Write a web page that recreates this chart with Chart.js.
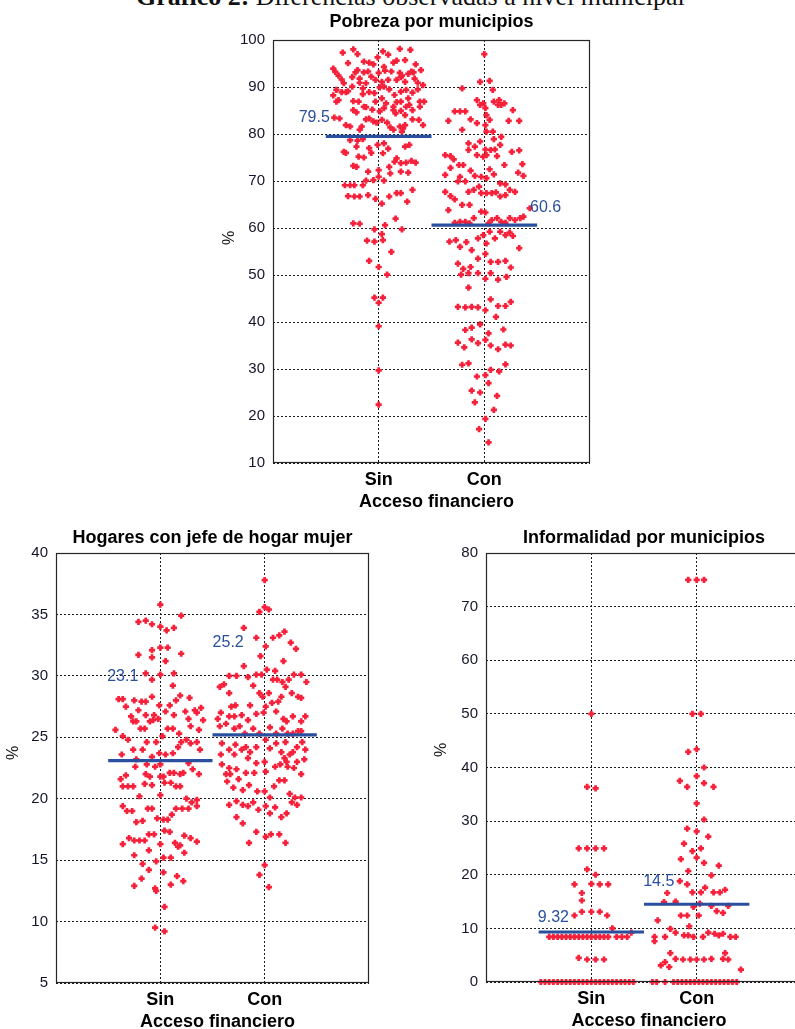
<!DOCTYPE html>
<html><head><meta charset="utf-8">
<script src="https://cdn.jsdelivr.net/npm/chart.js@4.4.1/dist/chart.umd.min.js"></script>
<style>
html,body{margin:0;padding:0;background:#fff;overflow:hidden;width:795px;height:1029px;position:relative}
#cap{position:absolute;left:136px;top:-16.5px;font-family:"Liberation Serif","DejaVu Serif",serif;font-size:26px;line-height:26px;white-space:nowrap;color:#111}
.wrap{position:absolute}
canvas{display:block}
</style></head><body>
<div id="cap"><b>Gráfico 2:</b> Diferencias observadas a nivel municipal</div>
<div class="wrap" style="left:200px;top:0px"><canvas id="c1" width="420" height="510"></canvas></div>
<div class="wrap" style="left:0px;top:515px"><canvas id="c2" width="400" height="514"></canvas></div>
<div class="wrap" style="left:400px;top:515px"><canvas id="c3" width="430" height="514"></canvas></div>
<script>
const categories = ['Sin', 'Con'];
const xAxisTitle = 'Acceso financiero';
const yAxisTitle = '%';

// Pobreza por municipios: [x jitter position, %]
const pobrezaSin = [[0.66,97.3],[0.76,98.0],[0.80,97.0],[1.04,97.6],[1.09,96.9],[1.20,98.1],[1.30,97.9],[0.99,96.3],[0.71,95.1],[0.86,95.4],
[0.91,95.2],[0.95,94.8],[1.14,95.2],[1.25,95.7],[1.35,94.8],[1.17,95.6],[0.57,93.9],[0.59,93.2],[0.62,92.4],[0.80,93.6],
[0.78,93.1],[0.86,93.1],[0.90,93.3],[1.00,93.0],[1.06,93.5],[1.12,93.3],[1.20,93.0],[1.22,92.4],[1.28,92.8],[1.33,93.1],
[1.40,93.6],[1.31,93.3],[1.05,94.3],[0.65,91.6],[0.67,90.8],[0.75,92.1],[0.82,91.8],[0.93,92.2],[0.97,91.5],[1.03,91.1],
[1.09,91.5],[1.17,91.5],[1.21,92.1],[1.25,91.1],[1.34,91.8],[1.37,90.9],[1.42,90.4],[0.88,90.8],[0.82,90.9],[0.57,88.2],
[0.60,89.4],[0.65,88.9],[0.69,88.9],[0.71,89.1],[0.75,90.1],[0.85,89.7],[0.91,88.9],[0.96,88.7],[1.01,89.9],[1.05,90.1],
[1.10,89.5],[1.15,88.3],[1.21,89.0],[1.26,89.4],[1.32,88.8],[1.37,89.5],[0.85,88.5],[0.60,86.9],[0.62,87.2],[0.76,87.0],
[0.81,86.9],[0.86,85.8],[0.97,86.9],[1.03,87.6],[1.07,86.5],[1.14,85.8],[1.17,86.8],[1.21,86.9],[1.28,87.6],[1.29,86.2],
[1.39,86.9],[1.43,86.9],[1.26,85.8],[0.76,85.1],[0.79,84.6],[0.88,85.7],[0.94,85.2],[1.01,84.8],[1.05,85.5],[1.14,85.1],
[1.16,84.4],[1.21,84.9],[1.25,84.0],[1.32,85.1],[1.39,85.8],[0.91,83.3],[0.58,83.5],[0.63,83.3],[0.69,81.9],[0.73,81.6],
[0.84,81.6],[0.88,83.1],[0.95,82.7],[0.98,82.4],[1.03,83.0],[1.08,82.4],[1.11,81.4],[1.20,81.6],[1.23,81.2],[1.38,83.0],
[1.42,81.9],[1.32,83.1],[0.82,80.9],[1.14,80.9],[1.22,80.5],[1.25,81.9],
[0.73,78.7],[0.80,78.6],[0.85,78.9],[0.79,77.3],[0.91,77.0],[0.99,77.7],[1.05,78.0],[1.09,76.9],[1.25,77.3],[1.29,77.7],
[0.67,76.2],[0.69,76.0],[0.81,75.2],[0.86,75.0],[0.93,76.0],[1.04,75.9],[1.15,74.1],[1.17,74.8],[1.21,73.8],[1.26,73.9],
[1.31,74.3],[1.35,73.9],[0.76,73.2],[0.79,73.0],[0.90,72.0],[1.00,72.3],[1.10,73.0],[1.11,71.6],[1.21,72.0],[1.28,71.8],
[1.00,70.9],[0.88,70.1],[0.95,70.2],[1.05,70.1],[0.68,69.1],[0.73,69.1],[0.77,69.1],[0.85,69.1],[0.71,66.8],[0.77,66.7],
[0.82,66.7],[0.90,67.0],[0.97,66.2],[1.03,65.2],[1.10,66.7],[1.17,67.4],[1.21,67.4],[1.32,68.1],[1.27,65.6],[0.76,61.0],
[0.82,60.9],[0.96,59.7],[1.06,60.6],[1.16,62.0],[1.22,59.7],[0.89,57.3],[0.96,57.1],[1.03,58.7],[1.04,57.4],
[0.91,53.0],[1.00,51.7],[1.08,50.1],[1.12,54.9],[0.96,45.2],[1.04,45.2],[1.00,44.1],[1.00,39.1],[1.00,29.7],[1.00,22.4]];

const pobrezaCon = [[2.00,97.0],[1.96,91.1],[2.05,91.3],[2.08,89.4],[1.79,89.7],[1.72,84.8],[1.77,84.8],[1.82,84.8],[1.66,82.8],[1.79,80.9],
[1.87,83.1],[1.93,82.3],[1.96,86.2],[2.01,85.5],[2.02,84.0],[1.93,87.2],[2.05,83.0],[2.09,86.9],[2.13,86.2],[2.16,86.2],
[2.19,86.5],[2.14,87.2],[2.27,85.1],[2.33,82.8],[2.23,82.8],[2.01,81.9],[2.02,80.5],[2.08,80.5],[1.99,86.5],
[1.85,78.0],[1.91,77.3],[1.85,76.6],[1.96,78.4],[2.01,76.7],[2.06,76.6],[2.10,76.7],[2.15,77.7],[2.09,78.9],[2.16,79.4],
[1.93,75.5],[1.99,75.2],[2.02,75.5],[2.12,75.3],[2.19,73.4],[2.26,76.2],[2.33,76.5],[1.63,75.5],[1.68,75.3],[1.71,74.6],
[1.63,71.3],[1.68,72.8],[1.76,73.4],[1.80,73.4],[1.87,72.2],[1.91,71.1],[1.97,70.9],[2.02,70.6],[2.05,72.5],[2.09,71.4],
[2.15,69.5],[2.20,69.3],[2.24,68.1],[2.29,67.7],[2.36,73.6],[2.37,71.1],[2.32,71.8],[1.63,67.7],[1.68,66.8],[1.72,66.1],
[1.75,69.9],[1.77,70.9],[1.82,69.9],[1.85,67.7],[1.90,68.1],[1.95,68.8],[1.97,67.4],[2.02,67.4],[2.07,67.4],[2.11,67.6],
[2.15,66.7],[2.20,67.0],[1.79,64.9],[1.86,64.9],[1.66,63.8],[1.72,61.1],[1.77,61.3],[1.82,61.3],[1.86,61.0],[1.90,62.1],
[1.97,63.5],[2.01,63.3],[2.04,61.0],[2.07,61.7],[2.12,62.1],[2.16,61.3],[2.20,61.1],[2.24,62.1],[2.29,61.7],[2.34,62.1],
[2.37,62.4],[2.43,64.2],[1.73,57.4],[1.67,57.1],[1.77,56.0],[1.83,57.0],[1.88,55.3],[1.94,57.8],[1.99,58.5],[2.02,56.7],
[2.05,59.2],[2.10,57.8],[2.15,59.2],[2.20,58.5],[2.24,59.0],[2.27,58.3],[2.33,55.7],
[1.75,52.4],[1.80,51.3],[1.87,51.7],[1.94,53.5],[1.78,50.1],[1.85,50.4],[1.94,50.4],[2.01,49.2],[2.06,52.8],[2.06,50.4],
[2.13,52.8],[2.13,49.0],[2.20,53.0],[2.21,49.6],[2.25,51.6],[1.85,47.3],[1.75,43.2],[1.82,43.1],[1.88,43.2],[1.94,43.1],
[2.01,42.5],[2.06,44.8],[2.13,43.4],[2.20,43.4],[2.25,44.3],[2.11,41.1],[1.82,38.3],[1.88,38.8],[1.96,39.5],[2.04,37.6],
[2.01,36.2],[2.18,38.4],[1.75,35.6],[1.81,34.6],[1.88,36.3],[1.94,35.5],[2.06,35.0],[2.13,34.2],[2.20,35.2],[2.25,35.0],
[1.79,30.9],[1.85,31.2],[2.06,29.8],[2.14,29.5],[2.20,31.0],[1.93,28.4],[2.01,28.7],[2.04,27.0],[1.88,25.4],[1.96,25.0],
[2.12,24.3],[1.91,22.9],[2.09,21.3],[2.01,19.4],[1.95,17.2],[2.04,14.4],[2.01,54.5]];

// Hogares con jefe de hogar mujer
const hogaresSin = [[1.00,35.8],[0.79,34.4],[0.86,34.5],[0.92,34.2],[1.00,34.0],[1.06,33.7],[1.13,33.9],[1.20,34.9],[0.79,31.7],[0.92,32.1],
[0.92,31.5],[1.00,32.3],[1.07,32.3],[1.20,31.8],[1.05,31.2],[0.86,30.2],[0.92,29.7],[1.00,30.1],[1.13,30.2],[1.12,29.2],
[0.60,28.1],[0.64,28.1],[0.75,28.0],[0.82,27.9],[0.86,27.9],[0.92,28.3],[0.99,27.6],[1.09,27.6],[1.15,28.0],[1.19,28.4],
[1.28,28.2],[0.67,27.5],[0.79,27.2],[0.86,26.8],[0.94,26.8],[1.05,27.1],[1.13,26.8],[1.24,27.1],[1.33,27.2],[1.39,27.4],
[1.35,27.0],[1.27,26.5],[0.57,25.6],[0.64,25.1],[0.72,26.7],[0.74,26.3],[0.77,26.3],[0.81,25.7],[0.85,25.7],[0.90,26.3],
[0.93,26.4],[0.98,26.5],[1.02,25.1],[1.07,25.7],[1.12,25.7],[1.18,25.3],[1.29,25.9],[1.37,25.6],[1.41,26.4],[0.63,23.6],
[0.69,24.8],[0.74,24.0],[0.77,23.2],[0.83,24.0],[0.87,24.6],[0.92,23.4],[0.96,24.6],[0.99,23.7],[1.05,23.6],[1.12,23.7],
[1.17,24.2],[1.20,24.6],[1.25,24.8],[1.29,24.5],[1.35,24.6],[1.38,24.0],
[0.87,22.8],[0.95,22.6],[1.00,22.8],[0.76,22.6],[1.27,22.9],[1.31,22.4],[1.37,22.0],[0.62,21.6],[0.67,21.9],[0.64,21.0],
[0.69,21.0],[0.74,21.0],[0.80,20.2],[0.86,22.0],[0.90,21.8],[0.85,21.2],[0.92,21.1],[1.00,21.8],[1.03,21.8],[1.09,22.1],
[1.13,22.1],[1.19,22.0],[1.22,22.1],[1.04,21.3],[1.10,21.3],[1.15,21.0],[1.19,21.0],[1.00,20.3],[0.64,19.4],[0.68,19.0],
[0.73,19.0],[0.88,19.2],[0.92,19.2],[0.77,18.1],[0.83,18.2],[0.97,18.4],[1.03,18.3],[1.07,18.3],[1.11,18.7],[1.15,19.2],
[1.21,19.2],[1.25,20.0],[1.27,19.2],[1.30,19.7],[1.35,19.9],[1.35,19.4],[0.64,16.3],[0.70,16.8],[0.75,16.6],[0.80,16.6],
[0.85,16.6],[0.89,17.1],[0.94,17.1],[1.04,17.4],[1.09,17.3],[1.00,16.3],[1.14,16.4],[1.17,16.1],[1.19,16.2],[1.23,17.0],
[1.29,16.8],[1.35,16.5],[1.23,15.6],[0.75,15.4],[0.83,14.7],[0.89,15.8],[0.96,14.9],[1.03,15.2],[1.10,15.2],[1.03,14.0],
[0.89,14.2],[0.82,13.5],[0.75,12.9],[0.95,12.7],[0.96,12.5],[1.10,13.0],[1.16,13.7],[1.22,13.3],[1.04,11.2],[0.95,9.5],[1.04,9.2]];

const hogaresCon = [[2.00,37.8],[2.00,35.6],[1.95,35.2],[2.04,35.4],[1.80,33.9],[1.92,33.1],[2.01,32.4],[2.08,33.1],[2.14,33.3],[2.19,33.6],
[2.25,32.7],[2.30,32.2],[1.96,31.6],[2.18,31.2],[2.02,30.5],[2.10,30.4],[1.80,30.8],[1.73,30.0],[1.84,29.9],[1.92,30.1],
[1.97,30.1],[1.66,30.0],[2.35,30.1],[2.28,30.1],[2.40,29.5],[1.57,29.1],[1.61,29.3],[1.66,28.6],[1.89,29.2],[1.95,28.6],
[1.98,28.3],[2.04,28.6],[2.08,29.7],[2.12,29.7],[2.17,29.5],[2.20,29.1],[2.23,29.7],[2.26,28.6],[2.32,28.3],[2.35,28.2],
[2.16,28.3],[2.13,27.9],[2.07,27.8],[2.01,27.5],[1.58,27.0],[1.68,27.5],[1.72,27.6],[1.86,27.6],[1.55,26.5],[1.66,26.7],
[1.71,26.7],[1.78,26.8],[1.84,26.4],[1.92,26.9],[1.99,27.0],[2.11,27.1],[2.18,26.5],[2.21,26.3],[2.27,26.7],[2.35,26.3],
[2.39,26.7],[1.57,25.9],[1.63,26.1],[1.71,25.7],[1.76,25.9],[1.81,25.3],[1.89,25.7],[1.95,25.3],[2.05,25.8],[2.11,25.3],
[2.17,25.7],[2.22,25.3],[2.27,25.3],[2.32,25.5],[2.35,25.5],[1.59,24.5],[1.66,24.0],[1.72,24.4],[1.78,24.0],[1.82,24.2],
[1.86,23.8],[1.92,24.2],[2.01,24.8],[2.05,24.1],[2.11,24.5],[2.16,23.8],[2.20,24.6],[2.27,23.8],[2.31,24.2],[2.36,24.6],
[2.39,24.0],[1.58,23.6],[1.71,23.6],[1.84,23.3],[2.19,23.3],[2.24,23.6],[2.38,23.2],
[1.59,22.8],[1.66,22.5],[1.73,22.4],[1.92,22.9],[2.00,23.0],[2.10,22.6],[2.15,22.8],[2.21,23.0],[2.31,23.0],[1.63,22.0],
[1.67,22.0],[1.75,21.6],[1.82,22.1],[1.90,22.1],[2.01,22.2],[2.22,22.6],[2.28,22.5],[2.35,22.0],[1.64,21.4],[1.70,20.9],
[1.79,20.7],[1.85,21.1],[1.93,20.6],[2.00,20.6],[2.05,20.1],[2.09,21.0],[2.14,21.5],[2.19,21.5],[2.24,20.4],[2.29,20.1],
[2.35,20.1],[1.66,19.5],[1.73,19.8],[1.79,19.5],[1.84,19.4],[1.89,19.7],[1.94,19.1],[2.01,19.4],[2.05,18.8],[2.10,19.3],
[2.16,18.5],[2.21,18.8],[2.26,19.7],[2.31,19.5],[1.73,18.5],[1.79,18.0],[1.85,16.4],[1.92,17.3],[2.01,16.9],[2.06,17.1],
[2.14,17.1],[2.20,16.4],[1.95,13.8],[2.00,14.6],[2.04,12.8]];

// Informalidad por municipios
const informalSin = [[1.00,50.0],[0.96,36.4],[1.04,36.1],[0.88,24.9],[0.96,24.9],[1.04,24.9],[1.12,24.9],[0.96,21.0],[1.04,20.0],[0.84,18.2],
[1.00,18.3],[1.08,18.2],[1.16,18.2],[0.91,16.6],[0.91,15.2],[0.91,13.1],[1.00,13.1],[1.08,13.1],[0.84,12.4],[1.15,12.4],
[1.20,10.0],[1.38,9.2],
[0.60,8.4],[0.64,8.4],[0.68,8.4],[0.72,8.4],[0.76,8.4],[0.80,8.4],[0.84,8.4],[0.88,8.4],[0.92,8.4],[0.96,8.4],
[1.00,8.4],[1.04,8.4],[1.08,8.4],[1.12,8.4],[1.16,8.4],[1.24,8.4],[1.29,8.4],[1.34,8.4],
[0.88,4.5],[0.96,4.2],[1.04,4.2],[1.12,4.2],
[0.52,0],[0.56,0],[0.60,0],[0.64,0],[0.68,0],[0.72,0],[0.76,0],[0.80,0],[0.84,0],[0.88,0],[0.92,0],[0.96,0],
[1.00,0],[1.04,0],[1.08,0],[1.12,0],[1.16,0],[1.20,0],[1.24,0],[1.28,0],[1.32,0],[1.36,0],[1.40,0]];

const informalCon = [[1.92,75.0],[2.00,75.0],[2.07,75.0],[1.96,50.0],[2.04,50.0],[1.92,42.9],[2.00,43.4],
[2.07,40.0],[2.00,38.4],[1.84,37.5],[1.91,36.4],[2.07,37.1],[2.16,36.4],[2.00,33.3],[2.07,30.3],[1.91,28.6],[2.00,28.1],
[2.11,27.1],[1.88,25.8],[1.96,24.4],[2.04,24.9],[2.00,23.2],[1.85,22.9],[2.07,22.2],[2.21,21.7],[1.92,20.7],[2.14,19.9],
[1.84,18.8],[1.91,18.2],[2.08,17.6],[2.27,17.2],[1.96,16.7],[2.04,16.7],[2.16,16.7],[2.22,16.7],[1.72,16.6],[1.69,14.9],
[1.80,15.0],[1.97,14.0],[2.03,14.6],[2.14,14.2],[2.30,14.2],[1.85,12.4],[1.91,12.4],[2.02,12.4],[2.19,13.2],[2.25,12.9],
[1.63,11.5],[1.93,10.4],[1.75,9.9],[1.80,9.2],[1.88,8.7],[1.92,8.7],[1.97,8.4],[2.06,8.4],[2.11,9.2],[2.17,9.0],
[2.21,8.7],[2.25,9.0],[2.32,8.4],[2.37,8.4],[1.60,8.4],[1.70,8.4],[1.60,7.6],[1.75,5.4],[2.27,5.4],[1.80,4.3],
[1.87,4.2],[1.94,4.2],[2.00,4.2],[2.07,4.2],[2.14,4.3],[2.25,4.3],[2.30,4.2],[1.66,3.1],[1.70,3.7],[1.74,2.8],[2.42,2.3],
[1.58,0],[1.62,0],[1.70,0],[1.78,0],[1.82,0],[1.86,0],[1.90,0],[1.94,0],[1.98,0],[2.02,0],[2.06,0],[2.10,0],
[2.14,0],[2.18,0],[2.22,0],[2.26,0],[2.30,0],[2.34,0],[2.38,0]];

const pobrezaMeans = [79.5, 60.6];
const hogaresMeans = [23.1, 25.2];
const informalMeans = [9.32, 14.5];

const pobrezaYAxis = [10, 100, 10];   // min, max, step
const hogaresYAxis = [5, 40, 5];
const informalYAxis = [0, 80, 10];

const RED = '#f6203a';
const BLUE = '#2a4f9e';
const FONT = '"Liberation Sans", Arial, Helvetica, sans-serif';

const decor = {
  id: 'decor',
  afterDatasetsDraw(chart, args, o) {
    const {ctx, chartArea: a, scales: {x, y}} = chart;
    ctx.save();
    ctx.setLineDash([]);
    ctx.strokeStyle = '#262626';
    ctx.lineWidth = 1.2;
    ctx.strokeRect(Math.round(a.left) + 0.5, Math.round(a.top) + 0.5,
                   Math.round(a.right - a.left) - 1, Math.round(a.bottom - a.top) - 1);
    const cx = (a.left + a.right) / 2;
    ctx.fillStyle = '#000';
    ctx.textAlign = 'center';
    ctx.textBaseline = 'alphabetic';
    ctx.font = 'bold 18px ' + FONT;
    ctx.fillText(o.title, cx, a.top - o.titleGap);
    categories.forEach((c, i) => ctx.fillText(c, x.getPixelForValue(i + 1), a.bottom + 22));
    ctx.fillText(xAxisTitle, cx + 5, a.bottom + 43.5);
    // y title
    ctx.save();
    ctx.font = '16px ' + FONT;
    ctx.fillStyle = '#111';
    ctx.translate(a.left + o.pct[0], a.top + o.pct[1]);
    ctx.rotate(-Math.PI / 2);
    ctx.textBaseline = 'middle';
    ctx.fillText(yAxisTitle, 0, 0);
    ctx.restore();
    // mean labels
    ctx.font = '16px ' + FONT;
    ctx.fillStyle = BLUE;
    ctx.textBaseline = 'middle';
    o.means.forEach((m, i) => {
      const p = o.labelPos[i];
      ctx.fillText(String(m), x.getPixelForValue(p[0]), y.getPixelForValue(p[1]));
    });
    ctx.restore();
  }
};

function makeChart(id, cfg) {
  const datasets = [];
  cfg.means.forEach((m, i) => datasets.push({
    type: 'line', data: [{x: i + 0.5, y: m}, {x: i + 1.5, y: m}],
    borderColor: BLUE, borderWidth: 3.2, pointRadius: 0, clip: false
  }));
  cfg.sets.forEach(s => datasets.push({
    type: 'scatter', data: s.map(p => ({x: p[0], y: p[1]})),
    pointStyle: 'cross', pointRadius: 3.1, borderWidth: 2.7,
    borderColor: RED, backgroundColor: RED, clip: false
  }));
  const gridOpts = {color: '#1a1a1a', lineWidth: 1, drawTicks: false};
  return new Chart(document.getElementById(id), {
    type: 'scatter',
    data: {datasets},
    plugins: [decor],
    options: {
      responsive: false, animation: false, events: [],
      layout: {padding: cfg.pad},
      plugins: {
        legend: {display: false}, tooltip: {enabled: false},
        decor: {title: cfg.title, titleGap: cfg.titleGap, pct: cfg.pct, means: cfg.means, labelPos: cfg.labelPos}
      },
      scales: {
        x: {
          type: 'linear', min: 0, max: 3,
          afterBuildTicks: s => { s.ticks = categories.map((c, i) => ({value: i + 1})); },
          afterFit: s => { s.height = 0; },
          ticks: {display: false},
          grid: gridOpts,
          border: {display: false, dash: [2, 2]}
        },
        y: {
          type: 'linear', min: cfg.yAxis[0], max: cfg.yAxis[1],
          ticks: {stepSize: cfg.yAxis[2], padding: 8, color: '#15152a', font: {family: FONT, size: 15}},
          afterFit: s => { s.width = 40; },
          grid: gridOpts,
          border: {display: false, dash: [2, 2]}
        }
      }
    }
  });
}

makeChart('c1', {
  title: 'Pobreza por municipios', sets: [pobrezaSin, pobrezaCon], means: pobrezaMeans,
  yAxis: pobrezaYAxis, pad: {left: 33, right: 30, top: 40, bottom: 47}, titleGap: 12.7,
  pct: [-43, 198], labelPos: [[0.39, 83.5], [2.58, 64.3]]
});
makeChart('c2', {
  title: 'Hogares con jefe de hogar mujer', sets: [hogaresSin, hogaresCon], means: hogaresMeans,
  yAxis: hogaresYAxis, pad: {left: 16, right: 31, top: 38, bottom: 46}, titleGap: 10,
  pct: [-42, 200], labelPos: [[0.64, 29.9], [1.65, 32.7]]
});
makeChart('c3', {
  title: 'Informalidad por municipios', sets: [informalSin, informalCon], means: informalMeans,
  yAxis: informalYAxis, pad: {left: 46, right: 28, top: 38, bottom: 47}, titleGap: 10,
  pct: [-44, 197], labelPos: [[0.64, 12.1], [1.64, 18.8]]
});
</script>
</body></html>
